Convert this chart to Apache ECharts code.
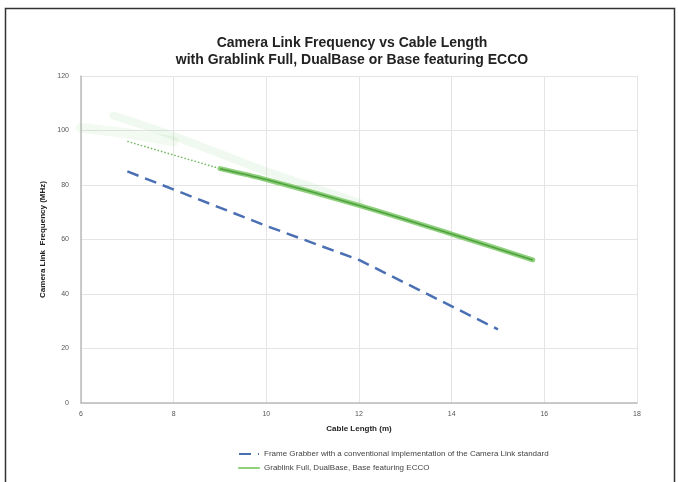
<!DOCTYPE html>
<html>
<head>
<meta charset="utf-8">
<script src="https://cdn.jsdelivr.net/npm/echarts@6/dist/echarts.min.js"></script>
<style>
html,body{margin:0;padding:0;background:#fff;}
#c{width:678px;height:482px;}
</style>
</head>
<body>
<div id="c"></div>
<script>
// ---- data ----
var xTicks = [6, 8, 10, 12, 14, 16, 18];
var yTicks = [0, 20, 40, 60, 80, 100, 120];
var conventionalX = [7, 10, 12, 15];
var conventionalY = [85, 65, 52.5, 27];
var eccoX = [9, 10, 12, 14, 15.75];
var eccoY = [86, 82, 72.5, 62, 52.5];
var eccoDottedX = [7, 8, 9];
var eccoDottedY = [96, 91, 86];
var eccoGlowUpperX = [6.7, 8, 10, 12];
var eccoGlowUpperY = [105.5, 98, 85, 73.5];
var eccoGlowLeftX = [6, 7, 8];
var eccoGlowLeftY = [101, 99, 96];
var seriesNames = ['Frame Grabber with a conventional implementation of the Camera Link standard',
                   'Grablink Full, DualBase, Base featuring ECCO'];

function pairs(xs, ys){ return xs.map(function(x,i){ return [x, ys[i]]; }); }

var chart = echarts.init(document.getElementById('c'));
var font = 'Liberation Sans, Arial, sans-serif';
chart.setOption({
  backgroundColor: '#fff',
  animation: false,
  title: {
    text: 'Camera Link Frequency vs Cable Length\nwith Grablink Full, DualBase or Base featuring ECCO',
    left: 347, textAlign: 'center', top: 30,
    textStyle: {fontFamily: font, fontSize: 14, fontWeight: 'bold', color: '#222', lineHeight: 17}
  },
  graphic: [{
    type: 'rect', shape: {x: 5.5, y: 8.5, width: 669, height: 480},
    style: {fill: 'none', stroke: '#333', lineWidth: 1.5}, silent: true
  }],
  legend: {
    orient: 'vertical', left: 233, top: 445, itemGap: 6,
    itemWidth: 20, itemHeight: 6,
    itemStyle: {opacity: 0},
    textStyle: {fontFamily: font, fontSize: 8, color: '#444'},
    data: seriesNames
  },
  grid: {left: 81, right: 41, top: 76, bottom: 79},
  xAxis: {
    type: 'value', min: 6, max: 18, interval: 2,
    name: 'Cable Length (m)', nameLocation: 'middle', nameGap: 22,
    nameTextStyle: {fontFamily: font, fontSize: 8, fontWeight: 'bold', color: '#222'},
    axisLine: {lineStyle: {color: '#bbb', width: 1.5}},
    axisTick: {show: false},
    axisLabel: {fontFamily: font, fontSize: 7, color: '#555', margin: 8},
    splitLine: {lineStyle: {color: '#e4e4e4'}}
  },
  yAxis: {
    type: 'value', min: 0, max: 120, interval: 20,
    name: 'Camera Link  Frequency (MHz)', nameLocation: 'middle', nameGap: 32,
    nameTextStyle: {fontFamily: font, fontSize: 8, fontWeight: 'bold', color: '#222'},
    axisLine: {show: true, lineStyle: {color: '#bbb', width: 1.5}},
    axisTick: {show: false},
    axisLabel: {fontFamily: font, fontSize: 7, color: '#555', margin: 12},
    splitLine: {lineStyle: {color: '#e4e4e4'}}
  },
  series: [
    {
      name: seriesNames[0], type: 'line', data: pairs(conventionalX, conventionalY),
      symbol: 'none', lineStyle: {color: '#4a6fb3', width: 2.5, type: [12, 7]},
      itemStyle: {color: '#4a6fb3'}, z: 3
    },
    {
      name: 'glowLeft', type: 'line', data: pairs(eccoGlowLeftX, eccoGlowLeftY),
      symbol: 'none', lineStyle: {color: 'rgba(130,205,120,0.10)', width: 10, cap: 'round'}, z: 1
    },
    {
      name: 'glowUpper', type: 'line', data: pairs(eccoGlowUpperX, eccoGlowUpperY), smooth: 0.3,
      symbol: 'none', lineStyle: {color: 'rgba(130,205,120,0.12)', width: 8, cap: 'round'}, z: 1
    },
    {
      name: 'dotted', type: 'line', data: pairs(eccoDottedX, eccoDottedY),
      symbol: 'none', lineStyle: {color: '#6fb85f', width: 1.5, type: [1.5, 2]}, z: 2
    },
    {
      name: seriesNames[1], type: 'line', data: pairs(eccoX, eccoY), smooth: 0.3,
      symbol: 'none', lineStyle: {color: '#8ed07c', width: 5, cap: 'round'},
      itemStyle: {color: '#8ed07c'}, z: 2
    },
    {
      name: 'core', type: 'line', data: pairs(eccoX, eccoY), smooth: 0.3,
      symbol: 'none', lineStyle: {color: '#4fa03f', width: 1.5}, z: 3
    }
  ]
});
</script>
</body>
</html>
